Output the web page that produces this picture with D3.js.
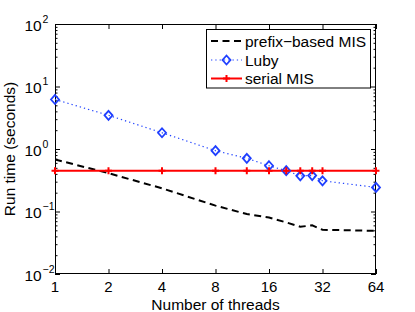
<!DOCTYPE html>
<html>
<head>
<meta charset="utf-8">
<script src="https://cdn.jsdelivr.net/npm/d3@7"></script>
<style>
  body { margin: 0; background: #fff; }
  svg { display: block; font-family: "Liberation Sans", Arial, Helvetica, sans-serif; }
</style>
</head>
<body>
<div id="chart"></div>
<script>
// Run time vs number of threads (log-log)
const threads = [1, 2, 4, 8, 12, 16, 20, 24, 28, 32, 64];
const prefixTimes = [0.68, 0.41, 0.235, 0.124, 0.091, 0.080, 0.067, 0.057, 0.060, 0.051, 0.049];
const lubyTimes = [6.2, 3.46, 1.82, 0.94, 0.71, 0.54, 0.45, 0.372, 0.375, 0.31, 0.243];
const serialTimes = [0.45, 0.45, 0.45, 0.45, 0.45, 0.45, 0.45, 0.45, 0.45, 0.45, 0.45];

const xTicks = [1, 2, 4, 8, 16, 32, 64];
const yDecades = [0.01, 0.1, 1, 10, 100];
const yExponents = ["\u22122", "\u22121", "0", "1", "2"];
const seriesNames = ["prefix\u2212based MIS", "Luby", "serial MIS"];

const width = 415, height = 312;
const m = { left: 55, right: 376, top: 24, bottom: 274 };

const svg = d3.select("#chart").append("svg")
    .attr("width", width)
    .attr("height", height);

const x = d3.scaleLog().base(2).domain([1, 64]).range([m.left, m.right]);
const y = d3.scaleLog().domain([0.01, 100]).range([m.bottom, m.top]);

// minor ticks on the log y axis: 2..9 within each decade
const yMinor = [];
yDecades.slice(0, -1).forEach(d => {
    for (let k = 2; k <= 9; k++) yMinor.push(d * k);
});

svg.append("clipPath").attr("id", "plotclip")
    .append("rect")
    .attr("x", m.left).attr("y", m.top)
    .attr("width", m.right - m.left).attr("height", m.bottom - m.top);

// Axes with inward ticks on all four sides
function styleAxis(g) {
    g.select(".domain").remove();
    g.selectAll("line").attr("stroke", "#000").attr("stroke-width", 1);
}

svg.append("g").attr("transform", `translate(0,${m.bottom})`)
    .call(d3.axisBottom(x).tickValues(xTicks).tickSize(-5).tickFormat(""))
    .call(styleAxis);
svg.append("g").attr("transform", `translate(0,${m.top})`)
    .call(d3.axisTop(x).tickValues(xTicks).tickSize(-5).tickFormat(""))
    .call(styleAxis);

svg.append("g").attr("transform", `translate(${m.left},0)`)
    .call(d3.axisLeft(y).tickValues(yDecades).tickSize(-5).tickFormat(""))
    .call(styleAxis);
svg.append("g").attr("transform", `translate(${m.left},0)`)
    .call(d3.axisLeft(y).tickValues(yMinor).tickSize(-2.5).tickFormat(""))
    .call(styleAxis);
svg.append("g").attr("transform", `translate(${m.right},0)`)
    .call(d3.axisRight(y).tickValues(yDecades).tickSize(-5).tickFormat(""))
    .call(styleAxis);
svg.append("g").attr("transform", `translate(${m.right},0)`)
    .call(d3.axisRight(y).tickValues(yMinor).tickSize(-2.5).tickFormat(""))
    .call(styleAxis);

// box
svg.append("rect")
    .attr("x", m.left + 0.5).attr("y", m.top + 0.5)
    .attr("width", m.right - m.left - 1).attr("height", m.bottom - m.top - 1)
    .attr("fill", "none")
    .attr("stroke", "#000")
    .attr("stroke-width", 1);

// x tick labels
svg.append("g").selectAll("text")
    .data(xTicks)
    .enter().append("text")
    .attr("x", d => x(d))
    .attr("y", m.bottom + 18)
    .attr("text-anchor", "middle")
    .attr("font-size", "15px")
    .text(d => d);

// y tick labels: 10 with superscript exponent
const yLab = svg.append("g").selectAll("text")
    .data(yDecades)
    .enter().append("text")
    .attr("x", 24.5)
    .attr("y", d => y(d) + 6.5)
    .attr("font-size", "15.5px");
yLab.append("tspan").text("10");
yLab.append("tspan")
    .attr("dx", 0.8)
    .attr("dy", -8)
    .attr("font-size", "10.5px")
    .text((d, i) => yExponents[i]);

// axis titles
svg.append("text")
    .attr("x", (m.left + m.right) / 2)
    .attr("y", 309.5)
    .attr("text-anchor", "middle")
    .attr("font-size", "15.5px")
    .text("Number of threads");

svg.append("text")
    .attr("transform", `translate(15,${(m.top + m.bottom) / 2}) rotate(-90)`)
    .attr("text-anchor", "middle")
    .attr("font-size", "15.5px")
    .text("Run time (seconds)");

// series
const plot = svg.append("g").attr("clip-path", "url(#plotclip)");

const line = d3.line()
    .x(d => x(d[0]))
    .y(d => y(d[1]));

const prefixData = threads.map((t, i) => [t, prefixTimes[i]]);
const lubyData = threads.map((t, i) => [t, lubyTimes[i]]);
const serialData = threads.map((t, i) => [t, serialTimes[i]]);

plot.append("path")
    .datum(prefixData)
    .attr("d", line)
    .attr("fill", "none")
    .attr("stroke", "#000")
    .attr("stroke-width", 2)
    .attr("stroke-dasharray", "7,4.5");

plot.append("path")
    .datum(lubyData)
    .attr("d", line)
    .attr("fill", "none")
    .attr("stroke", "#2244ff")
    .attr("stroke-width", 1.2)
    .attr("stroke-dasharray", "1.3,3");

plot.append("path")
    .datum(serialData)
    .attr("d", line)
    .attr("fill", "none")
    .attr("stroke", "#ff0000")
    .attr("stroke-width", 2);

const diamond = "M0,-4.5L4,0L0,4.5L-4,0Z";
const plus = "M-3.5,0H3.5M0,-3.5V3.5";

svg.append("g").selectAll("path")
    .data(lubyData)
    .enter().append("path")
    .attr("transform", d => `translate(${x(d[0])},${y(d[1])})`)
    .attr("d", diamond)
    .attr("fill", "none")
    .attr("stroke", "#1f3fff")
    .attr("stroke-width", 1.8);

svg.append("g").selectAll("path")
    .data(serialData)
    .enter().append("path")
    .attr("transform", d => `translate(${x(d[0])},${y(d[1])})`)
    .attr("d", plus)
    .attr("fill", "none")
    .attr("stroke", "#ff0000")
    .attr("stroke-width", 2);

// legend
const lg = svg.append("g");
lg.append("rect")
    .attr("x", 206.5).attr("y", 29.5)
    .attr("width", 164).attr("height", 58.5)
    .attr("fill", "#fff")
    .attr("stroke", "#000")
    .attr("stroke-width", 1);

const rowY = [41, 60, 78.5];
const rows = lg.selectAll("g.row")
    .data(seriesNames)
    .enter().append("g")
    .attr("class", "row")
    .attr("transform", (d, i) => `translate(0,${rowY[i]})`);

rows.append("text")
    .attr("x", 245)
    .attr("y", 5.5)
    .attr("font-size", "15.5px")
    .text(d => d);

rows.filter((d, i) => i === 0).append("line")
    .attr("x1", 211).attr("x2", 242)
    .attr("stroke", "#000").attr("stroke-width", 2)
    .attr("stroke-dasharray", "7,4.5");
rows.filter((d, i) => i === 1).append("line")
    .attr("x1", 211).attr("x2", 242)
    .attr("stroke", "#2244ff").attr("stroke-width", 1.2)
    .attr("stroke-dasharray", "1.3,3");
rows.filter((d, i) => i === 1).append("path")
    .attr("transform", "translate(226.5,0)")
    .attr("d", diamond)
    .attr("fill", "none")
    .attr("stroke", "#1f3fff")
    .attr("stroke-width", 1.8);
rows.filter((d, i) => i === 2).append("line")
    .attr("x1", 211).attr("x2", 242)
    .attr("stroke", "#ff0000").attr("stroke-width", 2);
rows.filter((d, i) => i === 2).append("path")
    .attr("transform", "translate(226.5,0)")
    .attr("d", plus)
    .attr("stroke", "#ff0000")
    .attr("stroke-width", 2);
</script>
</body>
</html>
